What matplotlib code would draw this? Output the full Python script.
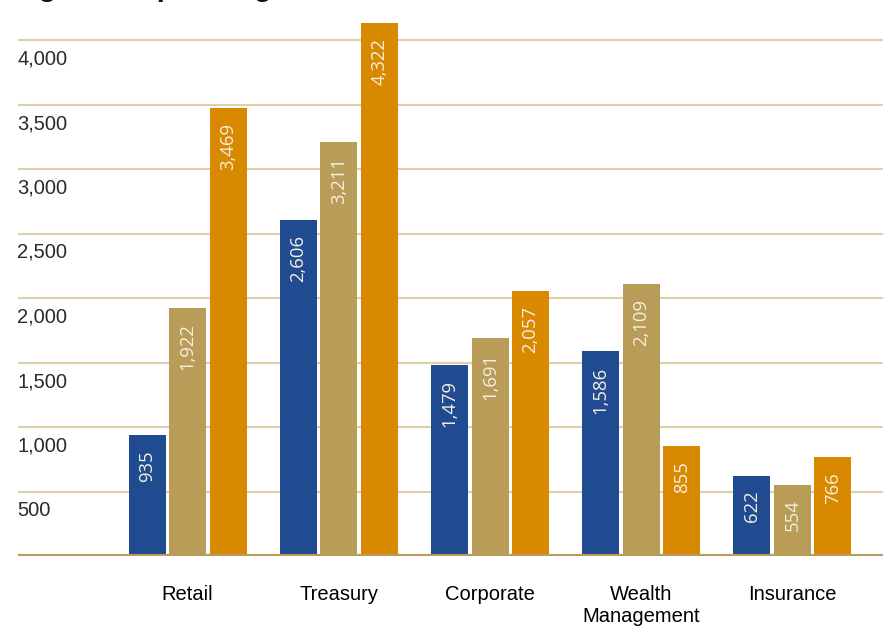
import matplotlib
matplotlib.use("Agg")
import matplotlib.pyplot as plt
import matplotlib.transforms as mtransforms
import numpy as np

# segment data (three periods per segment)
categories = ["Retail", "Treasury", "Corporate", "Wealth\nManagement", "Insurance"]
period1 = [935, 2606, 1479, 1586, 622]
period2 = [1922, 3211, 1691, 2109, 554]
period3 = [3469, 4322, 2057, 855, 766]
yticks = [500, 1000, 1500, 2000, 2500, 3000, 3500, 4000]
ytick_labels = ["500", "1,000", "1,500", "2,000", "2,500", "3,000", "3,500", "4,000"]

colors = ["#204b91", "#b89c58", "#d98900"]
grid_color = "#dccfa9"
base_color = "#b89c5a"

W, H = 883, 626
fig = plt.figure(figsize=(W / 100, H / 100), dpi=100)
ax = fig.add_axes([18 / W, 70 / H, 1 - 18 / W, (556 - 23) / H])

ymax = (556 - 23) / 0.129
ax.set_ylim(0, ymax)
ax.set_xlim(-1.122, 4.599)

x = np.arange(len(categories))
width = 0.245
step = 0.268

# gridlines
for v in yticks:
    ax.axhline(v, color=grid_color, lw=1.5, zorder=1)
ax.axhline(0, color=base_color, lw=3, zorder=3)

label_off = mtransforms.offset_copy(ax.transData, fig=fig, x=0, y=-15, units="dots")
for i, (vals, c) in enumerate(zip([period1, period2, period3], colors)):
    xs = x + (i - 1) * step
    ax.bar(xs, vals, width=width, color=c, zorder=2)
    for xi, v in zip(xs, vals):
        top = min(v, ymax)
        ax.text(xi, top, f"{v:,}", rotation=90, ha="center", va="top",
                color="#f4efe3", fontsize=13.3, family="Open Sans",
                transform=label_off, zorder=4)

# y labels sit below their gridline
tick_tr = mtransforms.blended_transform_factory(ax.transAxes, ax.transData)
tick_tr = tick_tr + mtransforms.ScaledTranslation(0, -19 / 100, fig.dpi_scale_trans)
for v, lab in zip(yticks, ytick_labels):
    ax.text(-0.001, v, lab, ha="left", va="center", fontsize=14.5,
            family="Liberation Sans", color="#2a2a2a", transform=tick_tr)

ax.set_xticks(x)
ax.set_xticklabels(categories, fontsize=14.5, family="Liberation Sans",
                   color="#000000", linespacing=1.22)
ax.tick_params(axis="x", length=0, pad=21)
ax.set_yticks([])
for s in ax.spines.values():
    s.set_visible(False)

# title, mostly cut off at the top edge as in the source
fig.text(3 / W, 1 + 4 / H, "Segment Operating Profit", ha="left", va="baseline",
         fontsize=21, fontweight="bold", family="Liberation Sans", color="#111111")

fig.savefig("out.png", dpi=100)
